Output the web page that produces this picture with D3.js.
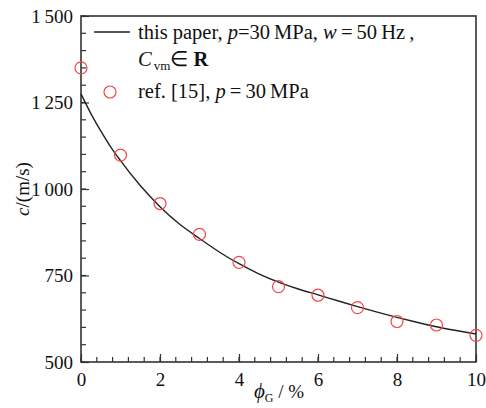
<!DOCTYPE html>
<html lang="en">
<head>
<meta charset="utf-8">
<title>c vs phi_G</title>
<script src="https://cdn.jsdelivr.net/npm/d3@7"></script>
<style>
    body { margin: 0; background: #fff; }
    svg text { font-family: "Liberation Serif", "Times New Roman", serif; fill: #111; }
</style>
</head>
<body>
<svg id="chart" width="486" height="408"></svg>
<script>
'use strict';

// model curve (this paper)
const curveX = [0, 0.25, 0.5, 0.75, 1, 1.5, 2, 2.5, 3, 3.5, 4, 4.5, 5, 5.5, 6, 6.5, 7, 7.5, 8, 8.5, 9, 9.5, 10];
const curveC = [1275, 1218, 1168, 1122, 1082, 1010, 949, 898, 857, 818, 784, 755, 731, 711, 694, 677, 660, 644, 629, 615, 602, 591, 581];

// ref. [15] points
const refX = [0, 1, 2, 3, 4, 5, 6, 7, 8, 9, 10];
const refC = [1350, 1098, 958, 869, 788, 718, 693, 657, 617, 607, 577];

const xTicks = [0, 2, 4, 6, 8, 10];
const yTicks = [500, 750, 1000, 1250, 1500];

const margin = {top: 16, right: 10, bottom: 46, left: 81},
    width = 486 - margin.left - margin.right,
    height = 408 - margin.top - margin.bottom;

const serif = '"Liberation Serif", "Times New Roman", serif';

const svg = d3.select("#chart");
const g = svg.append("g").attr("transform", `translate(${margin.left},${margin.top})`);

const x = d3.scaleLinear().domain([0, 10]).range([0, width]);
const y = d3.scaleLinear().domain([500, 1500]).range([height, 0]);

const fmt = d3.formatLocale({decimal: ".", thousands: "\u2009", grouping: [3], currency: ["", ""]}).format(",");

// minor ticks
const xMinor = d3.range(0, 10.001, 0.4);
const yMinor = d3.range(500, 1500.001, 50);

g.selectAll(".xminor").data(xMinor).enter().append("line")
    .attr("x1", d => x(d)).attr("x2", d => x(d))
    .attr("y1", height).attr("y2", height - 5)
    .attr("stroke", "#333").attr("stroke-width", 1.2);
g.selectAll(".yminor").data(yMinor).enter().append("line")
    .attr("x1", 0).attr("x2", 5)
    .attr("y1", d => y(d)).attr("y2", d => y(d))
    .attr("stroke", "#333").attr("stroke-width", 1.2);

// axes (ticks inward)
const xAxis = g.append("g").attr("transform", `translate(0,${height})`)
    .call(d3.axisBottom(x).tickValues(xTicks).tickSizeInner(-8).tickSizeOuter(0).tickPadding(12));
const yAxis = g.append("g")
    .call(d3.axisLeft(y).tickValues(yTicks).tickFormat(fmt).tickSizeInner(-8).tickSizeOuter(0).tickPadding(12));

[xAxis, yAxis].forEach(a => {
    a.attr("font-family", null).attr("font-size", 19);
    a.select(".domain").remove();
    a.selectAll("line").attr("stroke", "#333").attr("stroke-width", 1.2);
    a.selectAll("text").attr("fill", "#111").style("font-family", serif).style("font-size", "19px");
});
xAxis.selectAll("text").attr("dy", "0.62em");
yAxis.selectAll("text").attr("dx", "4");

// frame
g.append("rect").attr("width", width).attr("height", height)
    .attr("fill", "none").attr("stroke", "#333").attr("stroke-width", 1.6);

// model curve
const line = d3.line().curve(d3.curveMonotoneX).x(d => x(d[0])).y(d => y(d[1]));
g.append("path").datum(curveX.map((v, i) => [v, curveC[i]]))
    .attr("d", line).attr("fill", "none").attr("stroke", "#222").attr("stroke-width", 1.4);

// reference points
g.selectAll(".pt").data(refX.map((v, i) => [v, refC[i]])).enter().append("circle")
    .attr("cx", d => x(d[0])).attr("cy", d => y(d[1])).attr("r", 6)
    .attr("fill", "none").attr("stroke", "#f04848").attr("stroke-width", 1.2);

// legend
const leg = svg.append("g");
leg.append("line").attr("x1", 94).attr("x2", 130).attr("y1", 32).attr("y2", 32)
    .attr("stroke", "#222").attr("stroke-width", 1.4);
const t1 = leg.append("text").attr("x", 138).attr("y", 39).attr("font-size", 20.5);
t1.append("tspan").text("this paper, ");
t1.append("tspan").attr("font-style", "italic").text("p");
t1.append("tspan").text("=30\u2009MPa, ");
t1.append("tspan").attr("font-style", "italic").text("w");
t1.append("tspan").text("\u2009=\u200950\u2009Hz\u2009,");
const t2 = leg.append("text").attr("x", 138).attr("y", 66).attr("font-size", 20.5);
t2.append("tspan").attr("font-style", "italic").text("C");
t2.append("tspan").attr("font-size", 13).attr("dy", 4).attr("dx", 2).text("vm");
t2.append("tspan").attr("dy", -4).text("\u2208 ");
t2.append("tspan").attr("font-weight", "bold").text("R");
leg.append("circle").attr("cx", 110).attr("cy", 92).attr("r", 6)
    .attr("fill", "none").attr("stroke", "#f04848").attr("stroke-width", 1.2);
const t3 = leg.append("text").attr("x", 138).attr("y", 98).attr("font-size", 20.5);
t3.append("tspan").text("ref. [15], ");
t3.append("tspan").attr("font-style", "italic").text("p");
t3.append("tspan").text("\u2009=\u200930\u2009MPa");

// axis titles
const xl = svg.append("text").attr("x", 279).attr("y", 398).attr("font-size", 19).attr("text-anchor", "middle");
xl.append("tspan").attr("font-style", "italic").attr("font-size", 21).text("\u03d5");
xl.append("tspan").attr("font-size", 12).attr("dy", 4).text("G");
xl.append("tspan").attr("dy", -4).text(" / %");

const yl = svg.append("text").attr("transform", "translate(29,189) rotate(-90)")
    .attr("font-size", 19).attr("text-anchor", "middle");
yl.append("tspan").attr("font-style", "italic").text("c");
yl.append("tspan").text("/(m/s)");
</script>
</body>
</html>
